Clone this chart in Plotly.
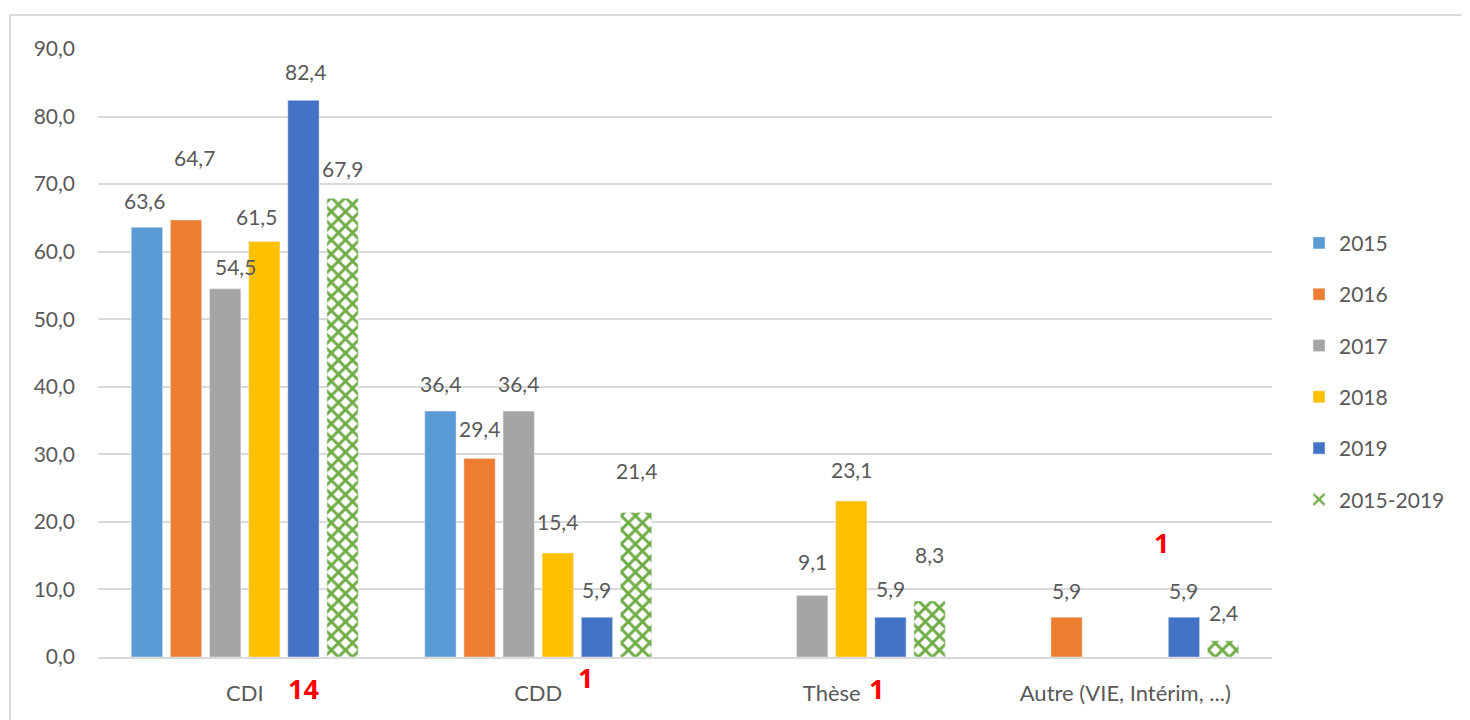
import plotly.graph_objects as go

categories = ["CDI", "CDD", "Thèse", "Autre (VIE, Intérim, ...)"]
series_names = ["2015", "2016", "2017", "2018", "2019", "2015-2019"]
v2015 = [63.6, 36.4, None, None]
v2016 = [64.7, 29.4, None, 5.9]
v2017 = [54.5, 36.4, 9.1, None]
v2018 = [61.5, 15.4, 23.1, None]
v2019 = [82.4, 5.9, 5.9, 5.9]
v_all = [67.9, 21.4, 8.3, 2.4]
counts = ["14", "1", "1", "1"]
y_ticks = [0, 10, 20, 30, 40, 50, 60, 70, 80, 90]

colors = ["#5B9BD5", "#ED7D31", "#A5A5A5", "#FFC000", "#4472C4", "#70AD47"]
values = [v2015, v2016, v2017, v2018, v2019, v_all]

# manual label nudges (pixels), per series then per category (style only)
label_dx = [[-2, 0, 0, 0], [8, 0, 0, 0], [10, 0, 0, 0],
            [-8, 0, 0, 0], [2, 0, 0, 0], [0, 0, 0, 0]]
label_dy = [[-1, 0, 0, 0], [34, 2, 0, -1], [-6, 0, 6, 0],
            [-3, 3, 3, 0], [1, 0, 1, -1], [2, 14, 18, 0]]

FONT = "Lato"
GREY = "#595959"
FS = 21

W, H = 1462, 712
ML, MR, MT, MB = 90, 198, 41, 63
BARGAP, GROUPGAP = 0.2, 0.2
plot_w = W - ML - MR
slot_px = plot_w / len(categories) * (1 - BARGAP) / len(series_names)

fig = go.Figure()
ann = []
for k, (name, vals, col) in enumerate(zip(series_names, values, colors)):
    kw = dict(marker_color=col)
    if name == "2015-2019":
        kw = dict(marker=dict(color="white",
                              pattern=dict(shape="x", fgcolor=col, bgcolor="white",
                                           fgopacity=1, size=10, solidity=0.5,
                                           fillmode="overlay")))
    fig.add_trace(go.Bar(name=name, x=categories, y=vals, legendgroup=name, **kw))
    for j, (cat, v) in enumerate(zip(categories, vals)):
        if v is None:
            continue
        ann.append(dict(
            x=cat, y=v, xref="x", yref="y", showarrow=False,
            text=("%.1f" % v).replace(".", ","),
            xshift=(k - (len(series_names) - 1) / 2) * slot_px + label_dx[k][j],
            yshift=28 + label_dy[k][j], yanchor="middle",
            font=dict(family=FONT, size=FS, color=GREY)))

# red count annotations
ann_pos = [(0, 0.20, -0.051), (1, 0.16, -0.0345), (2, 0.153, -0.051), (3, 0.124, None)]
for (i, dx, yy), txt in zip(ann_pos, counts):
    f = dict(family="Open Sans", size=27, color="#FF0000", weight="bold")
    if yy is None:
        ann.append(dict(x=i + dx, y=16.9, xref="x", yref="y", text=txt,
                        showarrow=False, font=f))
    else:
        ann.append(dict(x=i + dx, y=yy, xref="x", yref="paper", text=txt,
                        showarrow=False, yanchor="middle", font=f))

fig.update_layout(
    width=W, height=H,
    margin=dict(l=ML, r=MR, t=MT, b=MB),
    paper_bgcolor="white", plot_bgcolor="white",
    separators=", ",
    barmode="group", bargap=BARGAP, bargroupgap=GROUPGAP,
    font=dict(family=FONT, color=GREY, size=FS),
    legend=dict(x=1.023, y=0.47, yanchor="middle", xanchor="left",
                font=dict(family=FONT, size=FS, color=GREY),
                tracegroupgap=21, itemwidth=30),
    annotations=ann,
    shapes=[dict(type="rect", xref="paper", yref="paper",
                 x0=-0.075, x1=1.167, y0=-0.2, y1=1.056,
                 line=dict(color="#D9D9D9", width=2), layer="below")],
)
fig.update_yaxes(range=[0, 90], tickvals=y_ticks, tickformat=".1f",
                 showgrid=True, gridcolor="#D9D9D9", gridwidth=2,
                 zeroline=False, showline=False, ticklabelstandoff=22,
                 tickfont=dict(family=FONT, size=FS, color=GREY))
fig.update_xaxes(showline=True, linecolor="#D9D9D9", linewidth=2,
                 ticks="", ticklabelstandoff=16,
                 tickfont=dict(family=FONT, size=22, color=GREY))

fig.write_html("out.html")
